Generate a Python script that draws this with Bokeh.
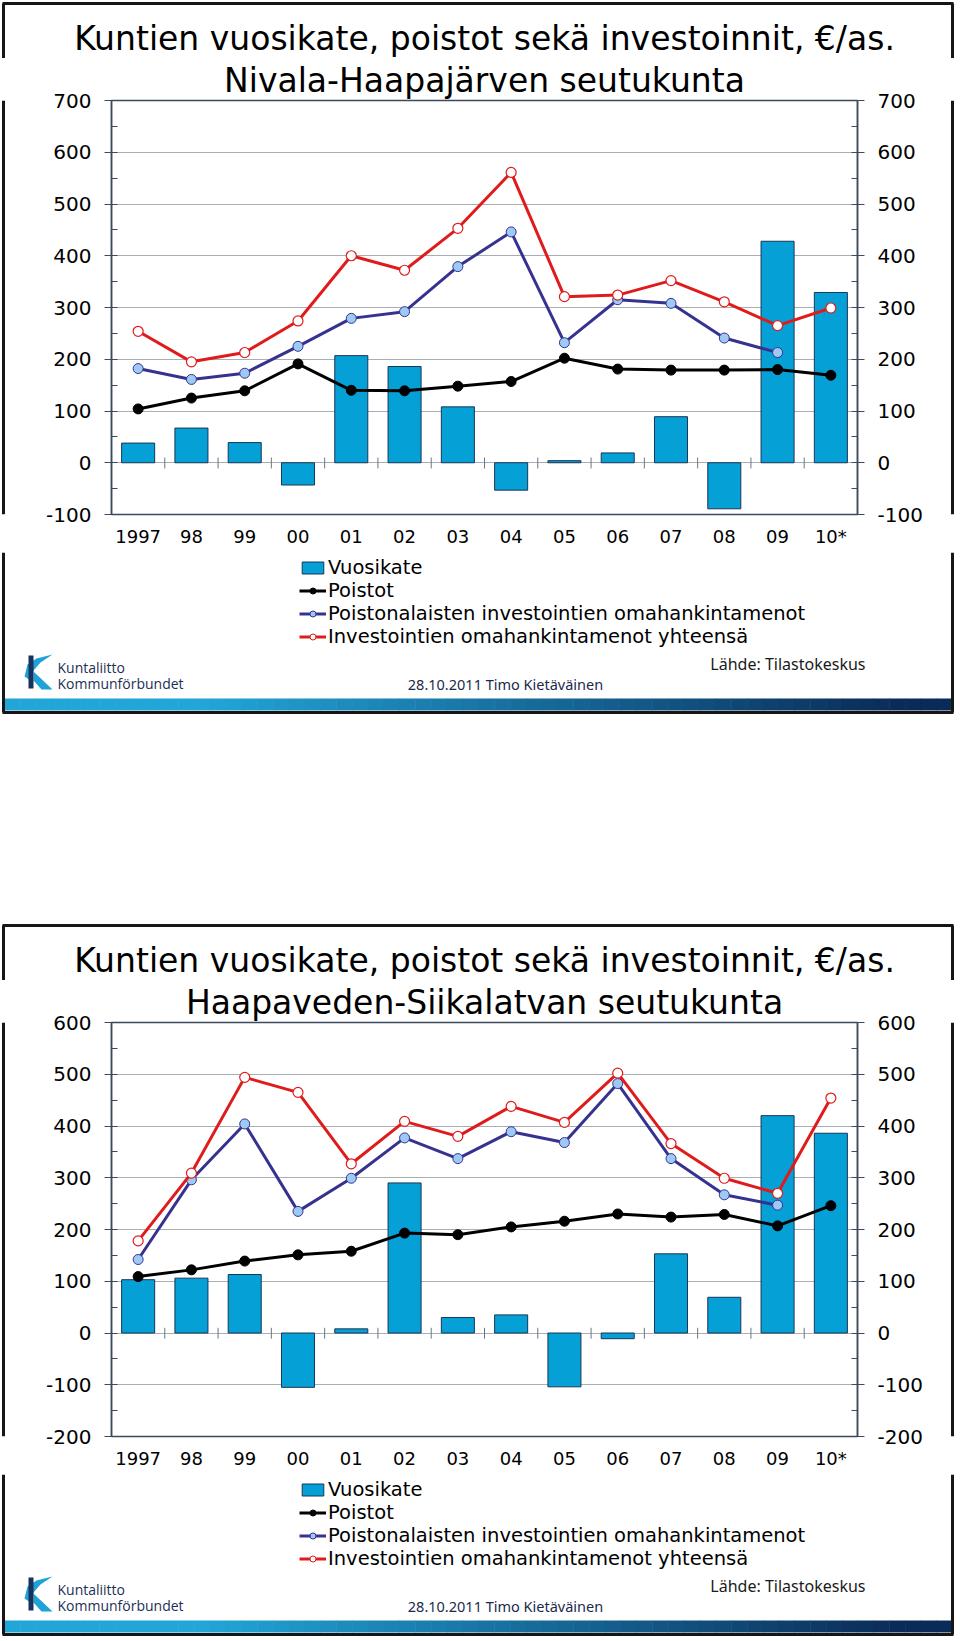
from bokeh.plotting import figure
from bokeh.models import (ColumnDataSource, LinearAxis, SingleIntervalTicker, FixedTicker,
                          PrintfTickFormatter, Range1d, Legend, LegendItem, Label, Spacer)
from bokeh.layouts import column, row
from bokeh.embed import file_html
from bokeh.resources import INLINE

NaN = float("nan")

years = ["1997", "98", "99", "00", "01", "02", "03", "04", "05", "06", "07", "08", "09", "10*"]

# Nivala-Haapajärven seutukunta
vuosikate_1 = [38, 67, 39, -43, 207, 186, 108, -53, 4, 19, 89, -89, 428, 329]
poistot_1 = [104, 125, 139, 191, 140, 139, 148, 157, 202, 181, 179, 179, 180, 169]
poistonal_1 = [182, 161, 173, 225, 279, 292, 379, 446, 232, 315, 308, 241, 213, NaN]
invest_1 = [254, 195, 213, 274, 400, 372, 453, 561, 321, 324, 352, 311, 265, 299]

# Haapaveden-Siikalatvan seutukunta
vuosikate_2 = [103, 106, 113, -105, 8, 290, 30, 35, -104, -11, 153, 69, 420, 386]
poistot_2 = [109, 122, 139, 151, 158, 193, 190, 205, 216, 230, 224, 229, 207, 246]
poistonal_2 = [142, 296, 404, 235, 299, 377, 337, 389, 368, 482, 337, 267, 247, NaN]
invest_2 = [178, 309, 494, 465, 327, 409, 380, 438, 407, 502, 366, 299, 270, 454]

title_line1 = "Kuntien vuosikate, poistot sekä investoinnit, €/as."
legend_labels = ["Vuosikate", "Poistot",
                 "Poistonalaisten investointien omahankintamenot",
                 "Investointien omahankintamenot yhteensä"]
source_text = "Lähde: Tilastokeskus"
author_text = "28.10.2011 Timo Kietäväinen"

FONT = "DejaVu Sans"
SLATE = "#3b4a5c"
GRID = "#a9aeb4"
BAR = "#05a0d6"
BAR_LINE = "#1b3557"
BLUE = "#35338f"
BLUE_FILL = "#9ec9f4"
RED = "#e01b1b"
FRAME = "#161616"

W = 956
HEAD_H, CHART_H, FOOT_H = 58, 494, 164


def hex_mix(c1, c2, t):
    a = [int(c1[i:i + 2], 16) for i in (1, 3, 5)]
    b = [int(c2[i:i + 2], 16) for i in (1, 3, 5)]
    return "#%02x%02x%02x" % tuple(int(round(a[k] + (b[k] - a[k]) * t)) for k in range(3))


def blank(width, height, y0, y1):
    # pixel-space figure: data x = pixel x, data y = slide-local pixel y (downwards)
    f = figure(width=width, height=height, x_range=Range1d(0, width), y_range=Range1d(y1, y0),
               x_axis_location=None, y_axis_location=None, min_border=0,
               toolbar_location=None, output_backend="svg", outline_line_color=None)
    f.grid.visible = False
    f.background_fill_color = "white"
    f.border_fill_color = "white"
    return f


def style_y(ax):
    ax.ticker = SingleIntervalTicker(interval=100, num_minor_ticks=2)
    ax.formatter = PrintfTickFormatter(format="%d")
    ax.axis_line_color = SLATE
    ax.axis_line_width = 1.5
    ax.major_tick_line_color = SLATE
    ax.minor_tick_line_color = SLATE
    ax.major_tick_out = 7
    ax.major_tick_in = 0
    ax.minor_tick_out = 0
    ax.minor_tick_in = 6
    ax.major_label_standoff = 13
    ax.major_label_text_font = FONT
    ax.major_label_text_font_size = "20px"
    ax.major_label_text_color = "black"


def make_slide(title2, vk, po, pn, inv, ymin, ymax):
    # ---- header: border top + first title line
    head = blank(W, HEAD_H, 0, HEAD_H)
    head.segment(x0=[2, 3, 952], x1=[953, 3, 952], y0=[3, 3, 3], y1=[3, HEAD_H, HEAD_H],
                 line_color=FRAME, line_width=3)
    head.add_layout(Label(x=484, y=38, text=title_line1, text_align="center",
                          text_baseline="middle", text_font=FONT,
                          text_font_size="33px", text_color="black"))

    # ---- chart (second title line as the chart's own title)
    n = len(years)
    xs = list(range(1, n + 1))
    src = ColumnDataSource(dict(x=xs, vk=vk, po=po, pn=pn, inv=inv))
    p = figure(width=940, height=CHART_H, output_backend="svg", toolbar_location=None,
               x_range=Range1d(0.5, n + 0.5), y_range=Range1d(ymin, ymax),
               min_border_left=103, min_border_right=91, min_border_top=42,
               min_border_bottom=38)
    p.title.text = title2
    p.title.align = "center"
    p.title.text_font = FONT
    p.title.text_font_size = "33px"
    p.title.text_font_style = "normal"
    p.title.text_color = "black"
    p.title.standoff = 1
    p.outline_line_color = SLATE
    p.outline_line_width = 1.5
    p.background_fill_color = "white"
    p.border_fill_color = "white"

    xa = p.xaxis[0]
    xa.ticker = FixedTicker(ticks=xs)
    xa.major_label_overrides = {x: y for x, y in zip(xs, years)}
    xa.axis_line_color = None
    xa.major_tick_line_color = None
    xa.minor_tick_line_color = None
    xa.major_tick_out = 0
    xa.major_tick_in = 0
    xa.major_label_standoff = 11
    xa.major_label_text_font = FONT
    xa.major_label_text_font_size = "18px"
    xa.major_label_text_color = "black"
    p.xgrid.visible = False

    style_y(p.yaxis[0])
    ra = LinearAxis()
    style_y(ra)
    p.add_layout(ra, "right")
    p.ygrid.ticker = SingleIntervalTicker(interval=100)
    p.ygrid.grid_line_color = GRID
    p.ygrid.grid_line_width = 1

    p.vbar(x="x", top="vk", bottom=0, width=0.62, fill_color=BAR,
           line_color=BAR_LINE, line_width=1, source=src)
    xb = [i + 0.5 for i in xs[:-1]]
    p.segment(x0=xb, x1=xb, y0=[-11] * len(xb), y1=[10] * len(xb),
              line_color="#6b7682", line_width=1)
    p.line("x", "po", line_color="black", line_width=3, source=src)
    p.scatter("x", "po", size=10, fill_color="black", line_color="black", source=src)
    p.line("x", "pn", line_color=BLUE, line_width=3, source=src)
    p.scatter("x", "pn", size=10, fill_color=BLUE_FILL, line_color=BLUE,
              line_width=1, source=src)
    p.line("x", "inv", line_color=RED, line_width=3, source=src)
    p.scatter("x", "inv", size=10, fill_color="white", line_color=RED,
              line_width=1.2, source=src)

    sl = blank(8, CHART_H, 0, CHART_H)
    sl.segment(x0=[3], x1=[3], y0=[0], y1=[CHART_H], line_color=FRAME, line_width=3)
    sr = blank(8, CHART_H, 0, CHART_H)
    sr.segment(x0=[4], x1=[4], y0=[0], y1=[CHART_H], line_color=FRAME, line_width=3)

    # ---- footer: legend, source, logo, band, border bottom
    y0 = HEAD_H + CHART_H
    foot = blank(W, FOOT_H, y0, y0 + FOOT_H)

    def dummy():
        return ColumnDataSource(dict(x=[NaN], y=[NaN]))

    rb = foot.vbar(x="x", top="y", width=0.6, source=dummy(), fill_color=BAR,
                   line_color=BAR_LINE, line_width=1)
    l1 = foot.line(x="x", y="y", source=dummy(), line_color="black", line_width=3)
    s1 = foot.scatter(x="x", y="y", source=dummy(), fill_color="black", line_color="black")
    l2 = foot.line(x="x", y="y", source=dummy(), line_color=BLUE, line_width=3)
    s2 = foot.scatter(x="x", y="y", source=dummy(), fill_color=BLUE_FILL, line_color=BLUE)
    l3 = foot.line(x="x", y="y", source=dummy(), line_color=RED, line_width=3)
    s3 = foot.scatter(x="x", y="y", source=dummy(), fill_color="white", line_color=RED)
    legend = Legend(items=[LegendItem(label=legend_labels[0], renderers=[rb]),
                           LegendItem(label=legend_labels[1], renderers=[l1, s1]),
                           LegendItem(label=legend_labels[2], renderers=[l2, s2]),
                           LegendItem(label=legend_labels[3], renderers=[l3, s3])],
                    location=(299, 68), orientation="vertical",
                    background_fill_alpha=0, border_line_color=None,
                    padding=0, margin=0, spacing=0, label_height=22,
                    glyph_height=15, glyph_width=27, label_standoff=2,
                    label_text_font=FONT, label_text_font_size="19.5px",
                    label_text_color="black")
    foot.add_layout(legend, "center")

    foot.add_layout(Label(x=865, y=663, text=source_text, text_align="right",
                          text_baseline="middle", text_font="Noto Sans",
                          text_font_size="16px", text_color="#1a1a1a"))
    foot.add_layout(Label(x=505, y=683, text=author_text, text_align="center",
                          text_baseline="middle", text_font="Noto Sans",
                          text_font_size="14.5px", text_color="#1a2a4a"))
    # logo
    foot.patch(x=[24, 27, 36, 52, 40, 33, 30], y=[676, 664, 658, 654, 662, 670, 680],
               fill_color="#1fa3d6", line_color=None)
    foot.patch(x=[33, 52, 41, 33], y=[671, 689, 689, 680],
               fill_color="#1fa3d6", line_color=None)
    foot.quad(left=[28], right=[33], top=[655], bottom=[688], fill_color="#17325f",
              line_color=None)
    foot.add_layout(Label(x=57, y=667, text="Kuntaliitto", text_baseline="middle",
                          text_font="Open Sans", text_font_size="14px",
                          text_color="#1d2f55"))
    foot.add_layout(Label(x=57, y=683, text="Kommunförbundet", text_baseline="middle",
                          text_font="Open Sans", text_font_size="14px",
                          text_color="#1d2f55"))
    # gradient band
    nseg = 60
    bx0, bx1 = 4, 952
    w = (bx1 - bx0) / nseg
    lefts = [bx0 + i * w for i in range(nseg)]
    rights = [l + w + 0.5 for l in lefts]
    cols = [hex_mix("#22a6d8", "#0a2b57", min(1.0, max(0.0, (i / (nseg - 1) - 0.2) / 0.75)))
            for i in range(nseg)]
    foot.quad(left=lefts, right=rights, top=[698] * nseg, bottom=[710] * nseg,
              fill_color=cols, line_color=None)
    # frame sides and bottom
    foot.segment(x0=[3, 952, 2], x1=[3, 952, 953], y0=[y0, y0, 712], y1=[712, 712, 712],
                 line_color=FRAME, line_width=3)

    return [head, row(sl, p, sr, spacing=0), foot]


s1 = make_slide("Nivala-Haapajärven seutukunta", vuosikate_1, poistot_1, poistonal_1,
                invest_1, -100, 700)
s2 = make_slide("Haapaveden-Siikalatvan seutukunta", vuosikate_2, poistot_2, poistonal_2,
                invest_2, -200, 600)

layout = column(*s1, Spacer(width=W, height=206), *s2, spacing=0)
open("out.html", "w").write(file_html(layout, INLINE))
